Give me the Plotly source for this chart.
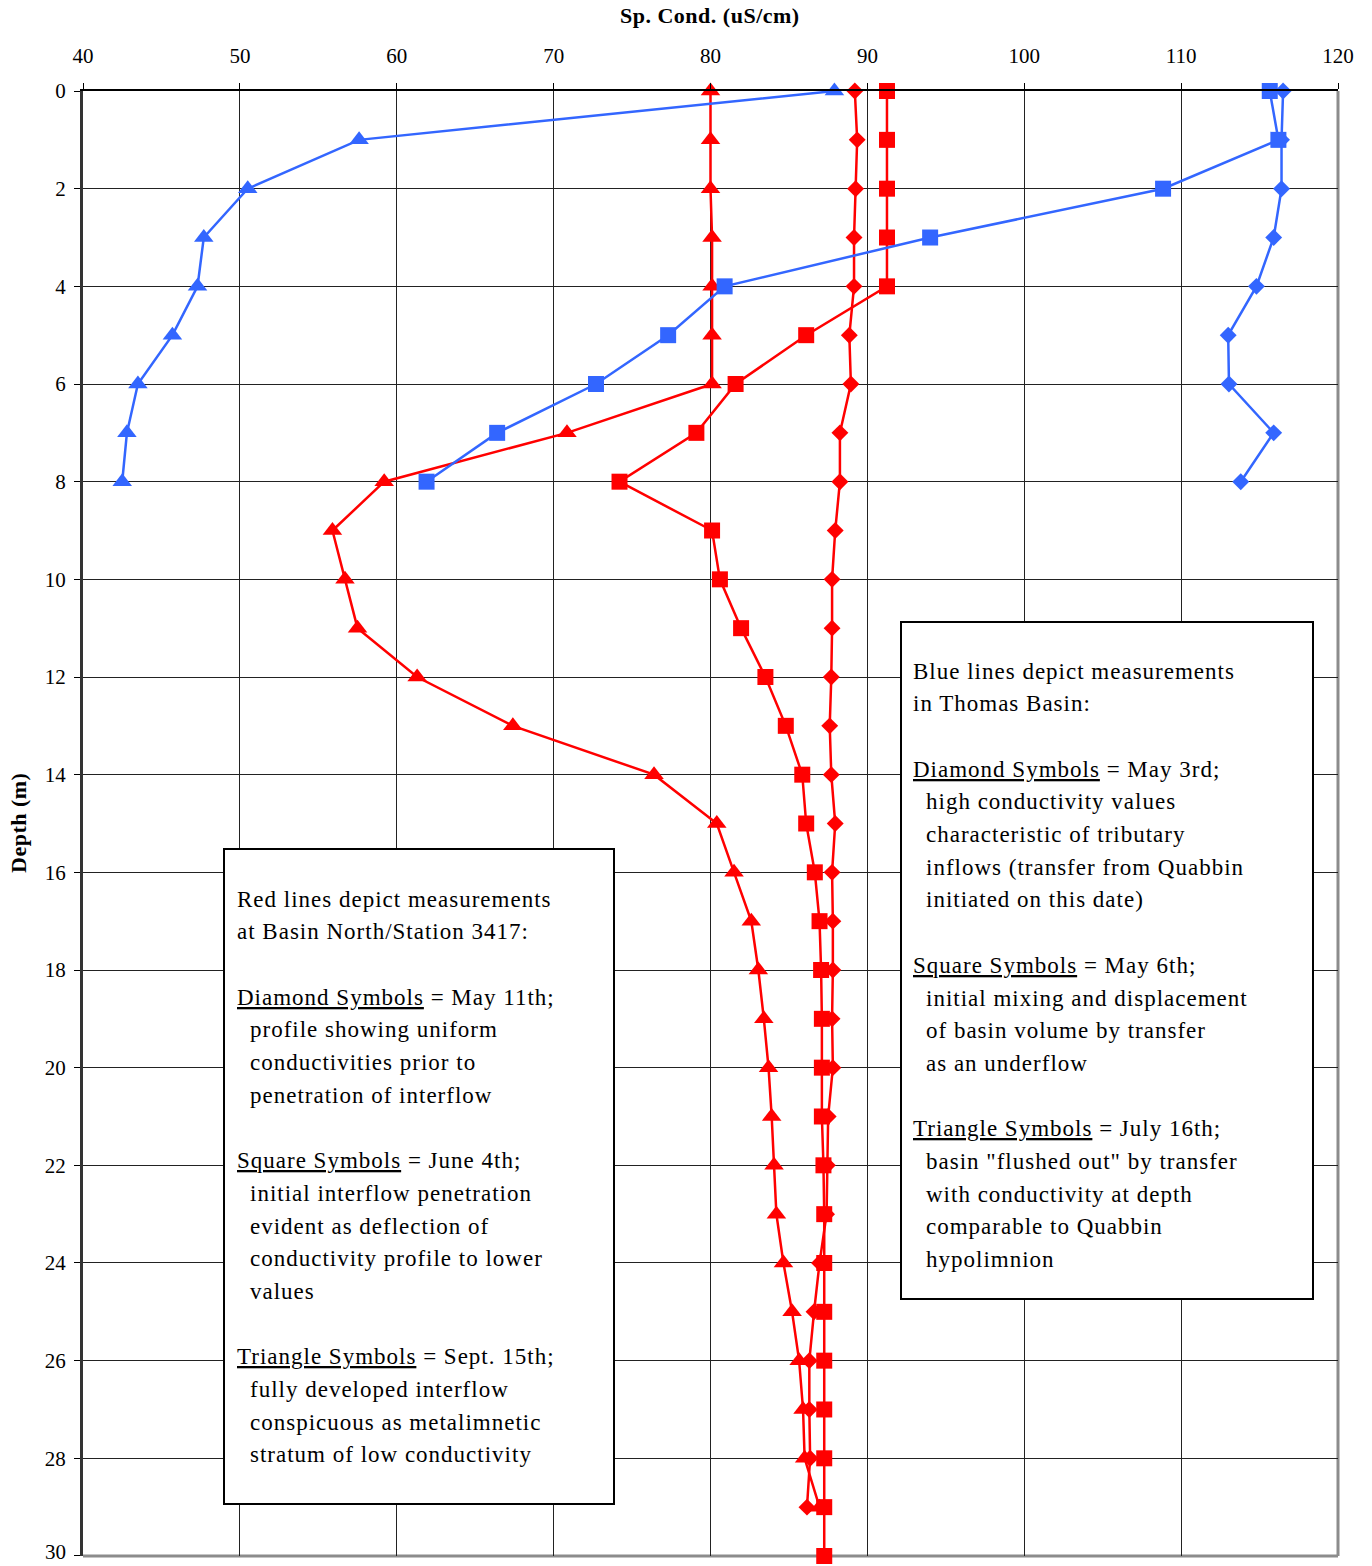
import plotly.graph_objects as go

# ---------------- data ----------------
depth_thomas = [0, 1, 2, 3, 4, 5, 6, 7, 8]
thomas_may3 = [116.5, 116.4, 116.4, 115.9, 114.8, 113.0, 113.05, 115.9, 113.8]
thomas_may6 = [115.65, 116.2, 108.85, 94.0, 80.9, 77.3, 72.7, 66.4, 61.9]
thomas_jul16 = [87.9, 57.6, 50.5, 47.7, 47.3, 45.7, 43.5, 42.8, 42.5]

depth_north_may11 = list(range(0, 30))
north_may11 = [89.2, 89.35, 89.25, 89.15, 89.15, 88.85, 88.95, 88.25, 88.25, 87.95,
               87.75, 87.75, 87.7, 87.6, 87.7, 87.95, 87.75, 87.8, 87.8, 87.75,
               87.8, 87.5, 87.45, 87.4, 86.95, 86.6, 86.3, 86.3, 86.35, 86.15]

depth_north_jun4 = list(range(0, 31))
north_jun4 = [91.25, 91.25, 91.25, 91.25, 91.25, 86.1, 81.6, 79.1, 74.2, 80.1,
              80.6, 81.95, 83.5, 84.8, 85.85, 86.1, 86.65, 86.95, 87.05, 87.1,
              87.1, 87.1, 87.2, 87.25, 87.25, 87.25, 87.25, 87.25, 87.25, 87.25, 87.25]

depth_north_sep15 = list(range(0, 30))
north_sep15 = [80.0, 80.0, 80.0, 80.1, 80.1, 80.1, 80.1, 70.85, 59.2, 55.9,
               56.7, 57.5, 61.3, 67.4, 76.4, 80.4, 81.5, 82.6, 83.05, 83.4,
               83.7, 83.9, 84.05, 84.2, 84.65, 85.2, 85.65, 85.9, 86.0, 86.95]

x_ticks = [40, 50, 60, 70, 80, 90, 100, 110, 120]
y_ticks = list(range(0, 31, 2))
y_ticktext = [str(v) for v in y_ticks[:-1]] + [""]   # last label drawn separately
y_last_label = str(y_ticks[-1])

x_title = "Sp. Cond. (uS/cm)"
y_title = "Depth (m)"

red_box_lines = [
    "Red lines depict measurements",
    "at Basin North/Station 3417:",
    "",
    "<u>Diamond Symbols</u> = May 11th;",
    "  profile showing uniform",
    "  conductivities prior to",
    "  penetration of interflow",
    "",
    "<u>Square Symbols</u> = June 4th;",
    "  initial interflow penetration",
    "  evident as deflection of",
    "  conductivity profile to lower",
    "  values",
    "",
    "<u>Triangle Symbols</u> = Sept. 15th;",
    "  fully developed interflow",
    "  conspicuous as metalimnetic",
    "  stratum of low conductivity",
]

blue_box_lines = [
    "Blue lines depict measurements",
    "in Thomas Basin:",
    "",
    "<u>Diamond Symbols</u> = May 3rd;",
    "  high conductivity values",
    "  characteristic of tributary",
    "  inflows (transfer from Quabbin",
    "  initiated on this date)",
    "",
    "<u>Square Symbols</u> = May 6th;",
    "  initial mixing and displacement",
    "  of basin volume by transfer",
    "  as an underflow",
    "",
    "<u>Triangle Symbols</u> = July 16th;",
    "  basin \"flushed out\" by transfer",
    "  with conductivity at depth",
    "  comparable to Quabbin",
    "  hypolimnion",
]

# ---------------- styling ----------------
BLUE = "#3366FF"
RED = "#FF0000"
SERIF = "Liberation Serif"

W, H = 1372, 1566
L, R, T, B = 83, 1338, 91, 1556


def px_x(px):
    return (px - L) / (R - L)


def px_y(py):
    return 1 - (py - T) / (B - T)


fig = go.Figure()


def add_series(x, y, color, symbol, size):
    fig.add_trace(go.Scatter(
        x=x, y=y, mode="lines+markers",
        line=dict(color=color, width=2.5),
        marker=dict(symbol=symbol, size=size, color=color, line=dict(width=0)),
        cliponaxis=False, showlegend=False,
    ))


add_series(north_may11, depth_north_may11, RED, "diamond", 13)
add_series(north_jun4, depth_north_jun4, RED, "square", 16)
add_series(north_sep15, depth_north_sep15, RED, "triangle-up", 17)
add_series(thomas_may3, depth_thomas, BLUE, "diamond", 13)
add_series(thomas_may6, depth_thomas, BLUE, "square", 16)
add_series(thomas_jul16, depth_thomas, BLUE, "triangle-up", 17)

shapes = []
# text boxes
for (x0, y0, x1, y1) in [(224, 849, 614, 1504), (901, 622, 1313, 1299)]:
    shapes.append(dict(type="rect", xref="paper", yref="paper",
                       x0=px_x(x0), x1=px_x(x1), y0=px_y(y1), y1=px_y(y0),
                       fillcolor="white", line=dict(color="black", width=2),
                       layer="above"))
# right and bottom frame (gray)
shapes.append(dict(type="line", xref="paper", yref="paper", x0=1, x1=1, y0=0, y1=1,
                   line=dict(color="#8c8c8c", width=3), layer="below"))
shapes.append(dict(type="line", xref="paper", yref="paper", x0=0, x1=1, y0=0, y1=0,
                   line=dict(color="#8c8c8c", width=3), layer="below"))

annotations = []
LS = "letter-spacing:1.0px"


def add_box_text(lines, x_head, x_indent, y_first, step=32.7):
    for i, line in enumerate(lines):
        if not line:
            continue
        indent = line.startswith("  ")
        txt = line.strip()
        annotations.append(dict(
            xref="paper", yref="paper",
            x=px_x(x_indent if indent else x_head), y=px_y(y_first + i * step),
            xanchor="left", yanchor="middle", showarrow=False,
            text=f'<span style="{LS}">{txt}</span>',
            font=dict(family=SERIF, size=23, color="black"),
        ))


add_box_text(red_box_lines, 235, 248, 899)
add_box_text(blue_box_lines, 911, 924, 671)

annotations.append(dict(xref="paper", yref="paper", x=px_x(710), y=px_y(16),
                        xanchor="center", yanchor="middle", showarrow=False,
                        text=f'<b><span style="letter-spacing:0.5px">{x_title}</span></b>',
                        font=dict(family=SERIF, size=22, color="black")))
annotations.append(dict(xref="paper", yref="paper", x=px_x(18), y=px_y(823),
                        xanchor="center", yanchor="middle", showarrow=False,
                        textangle=-90,
                        text=f'<b><span style="letter-spacing:0.5px">{y_title}</span></b>',
                        font=dict(family=SERIF, size=22, color="black")))
# bottom depth label, kept inside the page
annotations.append(dict(xref="paper", yref="paper", x=px_x(67), y=px_y(1565),
                        xanchor="right", yanchor="bottom", showarrow=False,
                        text=y_last_label, borderpad=0,
                        font=dict(family=SERIF, size=21, color="black")))

fig.update_layout(
    width=W, height=H,
    margin=dict(l=L, r=W - R, t=T, b=H - B, autoexpand=False),
    paper_bgcolor="white", plot_bgcolor="white",
    shapes=shapes, annotations=annotations,
    xaxis=dict(
        range=[40, 120], side="top", tickmode="array", tickvals=x_ticks,
        showgrid=True, gridcolor="#222222", gridwidth=1,
        showline=True, linecolor="black", linewidth=2,
        ticks="outside", ticklen=6, tickcolor="black", tickwidth=1,
        ticklabelstandoff=12, ticklabeloverflow="allow",
        tickfont=dict(family=SERIF, size=21, color="black"),
        zeroline=False, fixedrange=True,
    ),
    yaxis=dict(
        range=[30.0005, -0.0005], tickmode="array", tickvals=y_ticks,
        ticktext=y_ticktext,
        showgrid=True, gridcolor="#222222", gridwidth=1,
        showline=True, linecolor="#333333", linewidth=3,
        ticks="outside", ticklen=6, tickcolor="black", tickwidth=1,
        ticklabelstandoff=4, ticklabeloverflow="allow",
        tickfont=dict(family=SERIF, size=21, color="black"),
        zeroline=False, fixedrange=True,
    ),
)

fig.write_html("out.html")
